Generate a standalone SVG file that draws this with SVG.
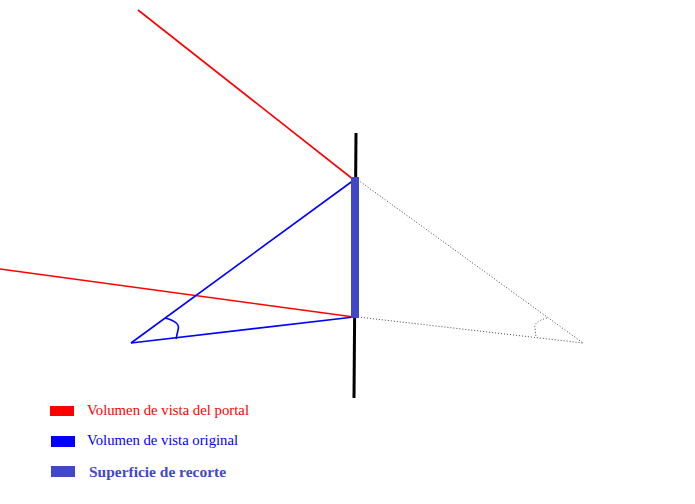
<svg xmlns="http://www.w3.org/2000/svg" width="695" height="504" viewBox="0 0 695 504">
<style>
.red{stroke:#ff0000;stroke-width:1.6;fill:none}
.blue{stroke:#0000ff;stroke-width:1.6;fill:none}
.dot{stroke:#444;stroke-width:1;stroke-dasharray:1,2;fill:none}
.lbl{font-family:"Liberation Serif",serif;font-size:15px}
</style>
<rect width="695" height="504" fill="#fff"/>
<g id="connectors">
<line class="red" x1="138" y1="10" x2="354" y2="180"/>
<line class="red" x1="0" y1="269" x2="354" y2="317"/>
<line class="blue" x1="131" y1="343" x2="354" y2="180"/>
<line class="blue" x1="131" y1="343" x2="354" y2="317"/>
<line class="dot" x1="358" y1="180" x2="583" y2="343"/>
<line class="dot" x1="358" y1="317" x2="583" y2="343"/>
<path class="blue" d="M165,318 Q181,322 178,330 L176,339"/>
<path class="dot" d="M547,318 Q533,322 535,328 L536,337"/>
</g>
<g id="portal">
<line x1="356" y1="133" x2="354" y2="398" stroke="#000" stroke-width="3"/>
<rect x="351" y="177" width="8" height="141" fill="#4148c8"/>
</g>
<g id="legend">
<rect x="50" y="406" width="24" height="10" fill="#ff0000"/>
<text class="lbl" x="87" y="415" fill="#ff0000" textLength="162" lengthAdjust="spacingAndGlyphs">Volumen de vista del portal</text>
<rect x="51" y="436" width="24" height="11" fill="#0000ff"/>
<text class="lbl" x="87" y="445" fill="#0000ff" textLength="151" lengthAdjust="spacingAndGlyphs">Volumen de vista original</text>
<rect x="51" y="466" width="24" height="11" fill="#4148c8"/>
<text class="lbl" x="89" y="477" fill="#4148c8" font-weight="bold" textLength="137" lengthAdjust="spacingAndGlyphs">Superficie de recorte</text>
</g>
</svg>
